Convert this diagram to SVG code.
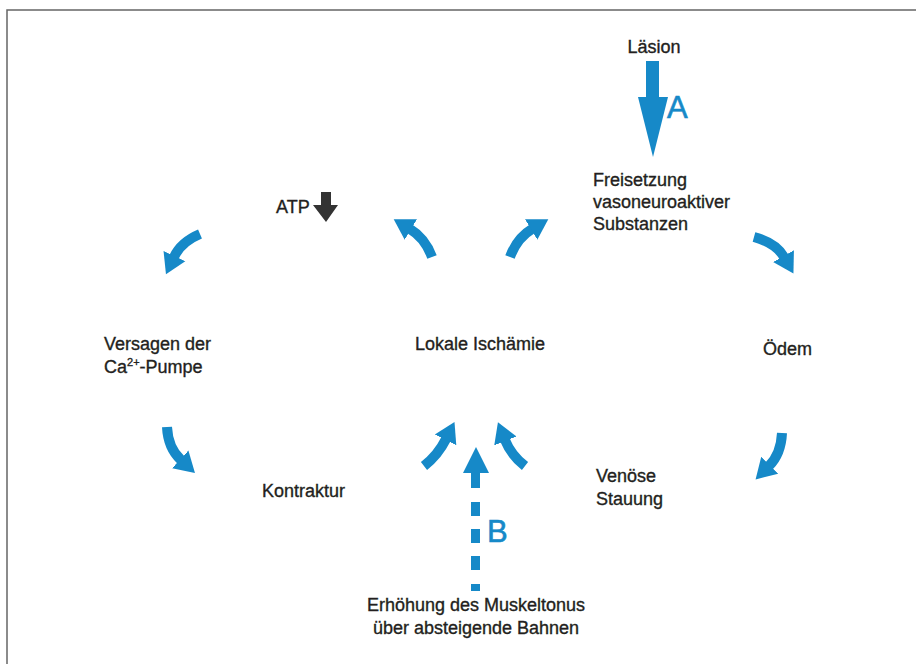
<svg xmlns="http://www.w3.org/2000/svg" width="916" height="664" viewBox="0 0 916 664">
<style>
.t{font-family:"Liberation Sans",Arial,sans-serif;font-size:18px;fill:#231f20;stroke:#231f20;stroke-width:0.35}
.sup{font-size:11px}
.lab{font-family:"Liberation Sans",Arial,sans-serif;font-size:31px;fill:#1689c8;stroke:#1689c8;stroke-width:0.6}
.c{fill:none;stroke:#1689c8;stroke-width:10;marker-end:url(#h)}
.frame{fill:none;stroke:#666;stroke-width:1.5}
</style>
<defs>
<marker id="h" markerUnits="userSpaceOnUse" viewBox="0 -13 21 26" markerWidth="21" markerHeight="26" refX="1" refY="0" orient="auto">
<path d="M0,-12 L20,0 L0,12 z" fill="#1689c8"/>
</marker>
</defs>
<rect width="916" height="664" fill="#fff"/>
<path class="frame" d="M7,664 V10 H916"/>

<g id="connectors">
<path id="arrowA" d="M646,61 H659 V97 H668 L653,157 L638,97 H646 Z" fill="#1689c8"/>
<path id="arrowATP" d="M321,192 H331 V205 H338 L326,222 L313,205 H321 Z" fill="#333"/>
<path class="c" d="M200,234 Q181,242 174,257"/>
<path class="c" d="M432,257 Q425,238 410,229"/>
<path class="c" d="M510,257 Q517,238 532,229"/>
<path class="c" d="M754,237 Q776,243 784,257"/>
<path class="c" d="M167,427 Q168,448 181,460"/>
<path class="c" d="M782,433 Q781,454 769,466"/>
<path class="c" d="M424,466 Q438,455 446,439"/>
<path class="c" d="M525,466 Q511,455 505,440"/>
<g id="arrowB" fill="#1689c8">
<path d="M463,473 L476,447 L489,473 H480 V488 H471 V473 Z"/>
<rect x="471" y="502" width="9" height="14"/>
<rect x="471" y="529" width="9" height="14"/>
<rect x="471" y="556" width="9" height="14"/>
<rect x="471" y="584" width="9" height="7"/>
</g>
<text class="lab" x="667" y="118">A</text>
<text class="lab" x="487" y="542">B</text>
</g>

<g id="laesion"><text class="t" x="654" y="53" text-anchor="middle">Läsion</text></g>
<g id="freisetzung">
<text class="t" x="593" y="186">Freisetzung</text>
<text class="t" x="593" y="208">vasoneuroaktiver</text>
<text class="t" x="593" y="230">Substanzen</text>
</g>
<g id="atp"><text class="t" x="276" y="213">ATP</text></g>
<g id="versagen">
<text class="t" x="104" y="350">Versagen der</text>
<text class="t" x="104" y="373">Ca<tspan class="sup" dy="-7">2+</tspan><tspan dy="7">-Pumpe</tspan></text>
</g>
<g id="ischaemie"><text class="t" x="480" y="350" text-anchor="middle">Lokale Ischämie</text></g>
<g id="oedem"><text class="t" x="763" y="355">Ödem</text></g>
<g id="kontraktur"><text class="t" x="262" y="497">Kontraktur</text></g>
<g id="stauung">
<text class="t" x="596" y="482">Venöse</text>
<text class="t" x="596" y="505">Stauung</text>
</g>
<g id="muskeltonus">
<text class="t" x="476" y="611" text-anchor="middle">Erhöhung des Muskeltonus</text>
<text class="t" x="476" y="634" text-anchor="middle">über absteigende Bahnen</text>
</g>
</svg>
